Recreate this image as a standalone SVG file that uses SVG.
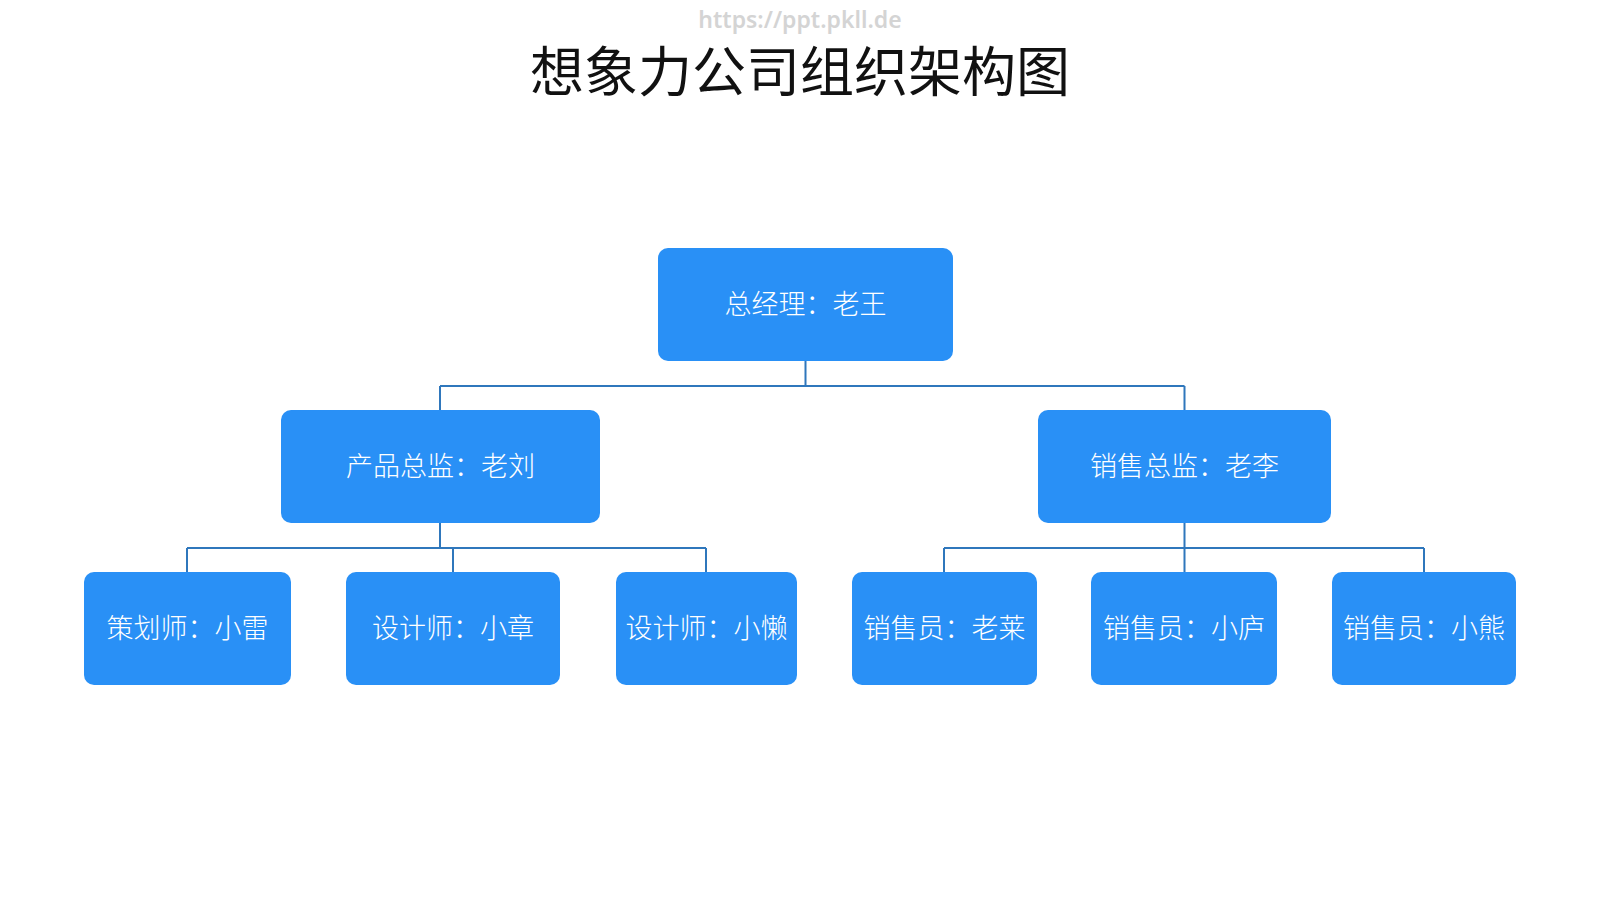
<svg xmlns="http://www.w3.org/2000/svg" width="1600" height="900" viewBox="0 0 1600 900">
<style>
.box{fill:#2990F6;}
.lbl{fill:#ffffff;font-family:"Noto Sans CJK SC","Noto Sans",sans-serif;font-size:27px;font-weight:300;text-anchor:middle;dominant-baseline:central;}
.ln{stroke:#2F77BC;stroke-width:2;fill:none;}
</style>
<rect width="1600" height="900" fill="#ffffff"/>
<text x="800" y="28" font-family="'Noto Sans','DejaVu Sans',sans-serif" font-size="23" font-weight="600" fill="#d4d4d4" text-anchor="middle">https://ppt.pkll.de</text>
<text x="800" y="92" font-family="'Noto Sans CJK SC',sans-serif" font-size="54" fill="#111111" text-anchor="middle">想象力公司组织架构图</text>
<g id="connectors">
<path class="ln" d="M805.5 361 V386 M440 386 H1184.5 M440 386 V410 M1184.5 386 V410"/>
<path class="ln" d="M440 523 V548 M187 548 H706 M187 548 V572 M453 548 V572 M706 548 V572"/>
<path class="ln" d="M1184.5 523 V572 M944 548 H1424 M944 548 V572 M1424 548 V572"/>
</g>
<g id="ceo"><rect class="box" x="658" y="248" width="295" height="113" rx="10"/><text class="lbl" x="805.5" y="302">总经理：老王</text></g>
<g id="product"><rect class="box" x="281" y="410" width="319" height="113" rx="10"/><text class="lbl" x="440.5" y="464">产品总监：老刘</text></g>
<g id="sales"><rect class="box" x="1038" y="410" width="293" height="113" rx="10"/><text class="lbl" x="1184.5" y="464">销售总监：老李</text></g>
<g id="planner"><rect class="box" x="84" y="572" width="207" height="113" rx="10"/><text class="lbl" x="187.5" y="626">策划师：小雷</text></g>
<g id="designer1"><rect class="box" x="346" y="572" width="214" height="113" rx="10"/><text class="lbl" x="453" y="626">设计师：小章</text></g>
<g id="designer2"><rect class="box" x="616" y="572" width="181" height="113" rx="10"/><text class="lbl" x="706.5" y="626">设计师：小懒</text></g>
<g id="sales1"><rect class="box" x="852" y="572" width="185" height="113" rx="10"/><text class="lbl" x="944.5" y="626">销售员：老莱</text></g>
<g id="sales2"><rect class="box" x="1091" y="572" width="186" height="113" rx="10"/><text class="lbl" x="1184" y="626">销售员：小庐</text></g>
<g id="sales3"><rect class="box" x="1332" y="572" width="184" height="113" rx="10"/><text class="lbl" x="1424" y="626">销售员：小熊</text></g>
</svg>
